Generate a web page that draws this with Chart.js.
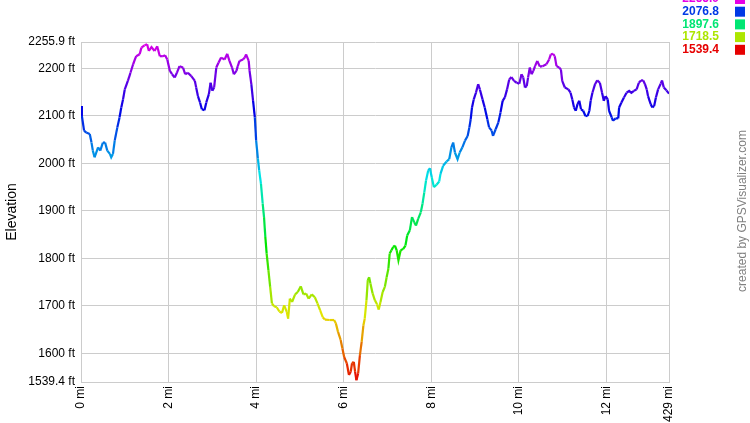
<!DOCTYPE html>
<html>
<head>
<meta charset="utf-8">
<script src="https://cdn.jsdelivr.net/npm/chart.js@4.4.1/dist/chart.umd.min.js"></script>
<style>
  html, body { margin: 0; padding: 0; background: #fff; overflow: hidden; }
  canvas { display: block; }
</style>
</head>
<body>
<canvas id="elev" width="750" height="423"></canvas>
<script>
// distance along the track (mi) and elevation (ft)
const distanceMi = [
  0,0.02,0.07,0.12,0.20,0.24,0.27,0.31,0.39,0.44,
  0.50,0.55,0.60,0.66,0.69,0.73,0.77,0.83,0.88,0.92,
  0.96,1.00,1.07,1.13,1.19,1.26,1.34,1.38,1.45,1.51,
  1.55,1.61,1.68,1.74,1.80,1.87,1.92,1.97,2.03,2.08,
  2.14,2.19,2.25,2.33,2.38,2.44,2.52,2.60,2.63,2.67,
  2.72,2.76,2.82,2.86,2.92,2.96,3.00,3.04,3.09,3.14,
  3.20,3.28,3.34,3.39,3.45,3.49,3.55,3.58,3.62,3.70,
  3.74,3.77,3.83,3.85,3.89,3.93,3.97,4.00,4.04,4.07,
  4.11,4.15,4.18,4.21,4.24,4.28,4.32,4.36,4.41,4.47,
  4.53,4.59,4.64,4.70,4.73,4.77,4.82,4.89,4.95,5.02,
  5.08,5.14,5.20,5.27,5.34,5.40,5.46,5.52,5.57,5.68,
  5.78,5.82,5.87,5.93,5.97,6.01,6.07,6.12,6.16,6.19,
  6.23,6.26,6.29,6.33,6.37,6.41,6.45,6.48,6.52,6.55,
  6.58,6.61,6.66,6.71,6.76,6.80,6.84,6.89,6.94,6.98,
  7.02,7.05,7.09,7.13,7.17,7.21,7.25,7.30,7.36,7.41,
  7.45,7.51,7.56,7.61,7.65,7.70,7.76,7.80,7.84,7.88,
  7.93,7.97,8.01,8.06,8.12,8.18,8.21,8.27,8.35,8.41,
  8.46,8.50,8.54,8.60,8.65,8.71,8.77,8.83,8.87,8.90,
  8.93,8.97,9.02,9.07,9.11,9.17,9.22,9.28,9.32,9.38,
  9.41,9.47,9.53,9.58,9.63,9.68,9.73,9.78,9.83,9.89,
  9.95,10.01,10.06,10.10,10.14,10.18,10.21,10.25,10.29,10.33,
  10.37,10.42,10.48,10.54,10.63,10.69,10.73,10.78,10.82,10.86,
  10.92,10.96,10.99,11.05,11.13,11.18,11.22,11.26,11.30,11.34,
  11.38,11.42,11.47,11.52,11.57,11.61,11.64,11.68,11.74,11.79,
  11.85,11.90,11.94,11.98,12.03,12.06,12.12,12.15,12.21,12.27,
  12.29,12.34,12.40,12.46,12.52,12.57,12.63,12.69,12.74,12.79,
  12.84,12.88,12.92,12.95,13.01,13.05,13.09,13.13,13.18,13.24,
  13.27,13.31,13.37,13.429
];
const elevationFt = [
  2121,2100,2069,2065,2062,2044,2027,2013,2034,2027,
  2044,2044,2027,2020,2013,2020,2048,2076,2097,2118,
  2135,2156,2174,2191,2209,2226,2230,2244,2249,2251,
  2237,2245,2237,2247,2226,2226,2228,2219,2195,2188,
  2181,2191,2205,2202,2188,2191,2184,2174,2160,2142,
  2128,2114,2112,2128,2146,2170,2153,2160,2202,2212,
  2223,2219,2231,2216,2202,2188,2195,2205,2216,2219,
  2223,2230,2216,2195,2167,2132,2097,2048,2010,1985,
  1957,1915,1887,1845,1810,1775,1740,1705,1699,1697,
  1688,1685,1701,1687,1673,1715,1708,1724,1729,1741,
  1724,1726,1715,1724,1718,1705,1691,1676,1671,1670,
  1670,1663,1645,1628,1610,1592,1579,1554,1561,1579,
  1582,1561,1543,1558,1596,1624,1659,1673,1712,1754,
  1760,1747,1726,1712,1703,1692,1708,1729,1740,1760,
  1778,1810,1817,1824,1827,1817,1796,1817,1820,1827,
  1848,1859,1887,1876,1869,1883,1897,1915,1939,1964,
  1985,1990,1971,1950,1955,1962,1978,1995,2004,2009,
  2034,2044,2023,2009,2023,2034,2048,2058,2076,2093,
  2118,2135,2149,2167,2156,2135,2118,2093,2076,2069,
  2058,2072,2086,2107,2132,2139,2156,2177,2182,2174,
  2170,2168,2188,2181,2160,2163,2181,2202,2188,2195,
  2205,2216,2204,2205,2209,2219,2230,2231,2226,2205,
  2202,2198,2174,2160,2156,2149,2135,2118,2111,2125,
  2132,2114,2111,2100,2100,2111,2132,2149,2167,2175,
  2170,2149,2132,2142,2135,2111,2097,2090,2095,2095,
  2118,2128,2139,2149,2153,2149,2153,2156,2170,2175,
  2175,2167,2156,2142,2125,2118,2121,2139,2156,2168,
  2175,2160,2154,2147
];

const minElev = 1539.4;
const maxElev = 2255.9;
const totalMi = 13.429;
const yTicks = [1539.4, 1600, 1700, 1800, 1900, 2000, 2100, 2200, 2255.9];
const xTicks = [0, 2, 4, 6, 8, 10, 12, 13.429];
const legendValues = [2255.9, 2076.8, 1897.6, 1718.5, 1539.4];

// red at the lowest point, magenta at the highest
function elevColor(e) {
  let t = (e - minElev) / (maxElev - minElev);
  t = Math.max(0, Math.min(1, t));
  return 'hsl(' + (t * 300).toFixed(1) + ',100%,45%)';
}

const points = distanceMi.map((d, i) => ({ x: d, y: elevationFt[i] }));

const sidePlugin = {
  id: 'sideText',
  afterDraw(chart) {
    const c = chart.ctx;
    c.save();
    // colour key
    c.font = 'bold 12px "Liberation Sans", Arial, sans-serif';
    c.textAlign = 'right';
    c.textBaseline = 'middle';
    legendValues.forEach((v, i) => {
      const y = -1 + i * 12.7;
      c.fillStyle = elevColor(v);
      c.fillText(v.toFixed(1), 719, y);
      c.fillRect(735, y - 5, 10, 10);
    });
    // credit
    c.translate(743, 211);
    c.rotate(-Math.PI / 2);
    c.font = '12px "Liberation Sans", Arial, sans-serif';
    c.fillStyle = '#808080';
    c.textAlign = 'center';
    c.fillText('created by GPSVisualizer.com', 0, 0);
    c.restore();
  }
};

new Chart(document.getElementById('elev'), {
  type: 'line',
  data: {
    datasets: [{
      data: points,
      borderWidth: 2.2,
      pointRadius: 0,
      tension: 0,
      fill: false,
      segment: {
        borderColor: ctx => elevColor((ctx.p0.parsed.y + ctx.p1.parsed.y) / 2)
      }
    }]
  },
  options: {
    responsive: false,
    devicePixelRatio: 1,
    animation: false,
    layout: { padding: { top: 42, right: 81, left: 0, bottom: 0 } },
    plugins: { legend: { display: false }, tooltip: { enabled: false } },
    scales: {
      x: {
        type: 'linear',
        min: 0,
        max: totalMi,
        afterBuildTicks: s => { s.ticks = xTicks.map(v => ({ value: v })); },
        afterFit: s => { s.height = 41; },
        grid: { color: '#cccccc', drawTicks: false },
        border: { color: '#cccccc' },
        ticks: {
          autoSkip: false,
          minRotation: 90,
          maxRotation: 90,
          padding: 4,
          color: '#000',
          font: { family: '"Liberation Sans", Arial, sans-serif', size: 12 },
          callback: v => (v === totalMi ? '13.429' : v) + ' mi'
        }
      },
      y: {
        min: minElev,
        max: maxElev,
        afterBuildTicks: s => { s.ticks = yTicks.map(v => ({ value: v })); },
        afterFit: s => { s.width = 81; },
        grid: { color: '#cccccc', drawTicks: false },
        border: { color: '#cccccc' },
        title: {
          display: true,
          text: 'Elevation',
          color: '#000',
          padding: { top: 4, bottom: 0 },
          font: { family: '"Liberation Sans", Arial, sans-serif', size: 14 }
        },
        ticks: {
          autoSkip: false,
          padding: 6,
          color: '#000',
          font: { family: '"Liberation Sans", Arial, sans-serif', size: 12 },
          callback: v => v + ' ft'
        }
      }
    }
  },
  plugins: [sidePlugin]
});
</script>
</body>
</html>
